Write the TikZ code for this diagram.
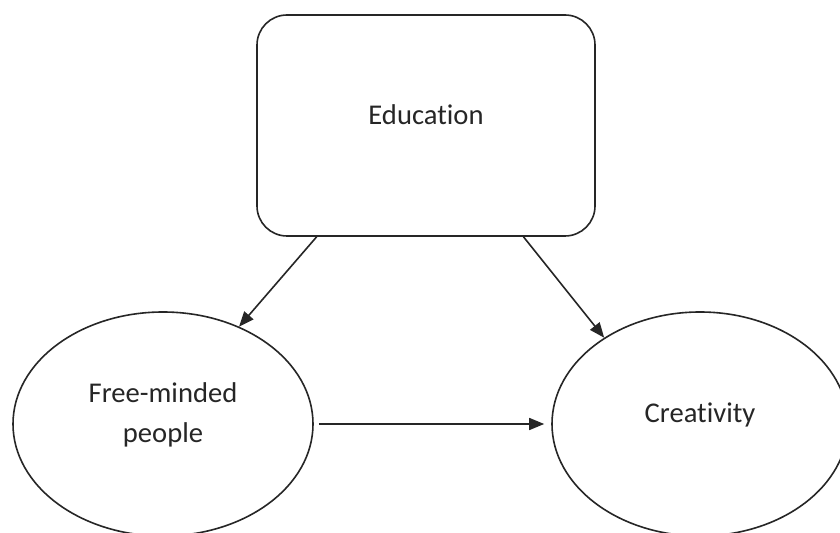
\documentclass[tikz,border=0pt]{standalone}
\usepackage{fontspec}
\setmainfont{Carlito}[Ligatures={NoCommon}]
\usetikzlibrary{shapes.geometric,arrows.meta,calc}
\tikzset{
  lw/.style={line width=0.8pt, draw=black!85},
  box/.style={lw, rectangle, rounded corners=15pt, minimum width=169pt, minimum height=110.5pt, inner sep=0pt},
  oval/.style={lw, ellipse, minimum width=150pt, minimum height=112pt, inner sep=0pt},
  txt/.style={font=\fontsize{14.3pt}{20pt}\selectfont, text=black!85, align=center},
  arr/.style={lw, -{Triangle[length=7.5pt,width=6pt]}}
}
\newcommand{\upby}[2]{\raisebox{#1}[\height][\depth]{#2}}
\begin{document}
\begin{tikzpicture}[x=0.5pt,y=-0.5pt]
\useasboundingbox (0,0) rectangle (840,533);
\clip (0,0) rectangle (840,533);
\fill[white] (0,0) rectangle (840,533);
\node[box,txt] (edu) at (426,125.5) {\upby{5.5pt}{Education}};
\node[oval,txt] (free) at (163,424) {\upby{4.5pt}{\begin{tabular}{@{}c@{}}Free-minded\\people\end{tabular}}};
\node[oval,txt,minimum width=148pt] (crea) at (700,424) {\upby{4.5pt}{Creativity}};
\coordinate (s1) at ($(edu.south west)!0.178!(edu.south east)$);
\coordinate (s2) at ($(edu.south west)!0.787!(edu.south east)$);
\draw[arr] (s1) -- (free.52);
\draw[arr] (s2) -- (crea.138);
\draw[arr] ([xshift=2.5pt]free.east) -- ([xshift=-3.5pt]crea.west);
\end{tikzpicture}
\end{document}
